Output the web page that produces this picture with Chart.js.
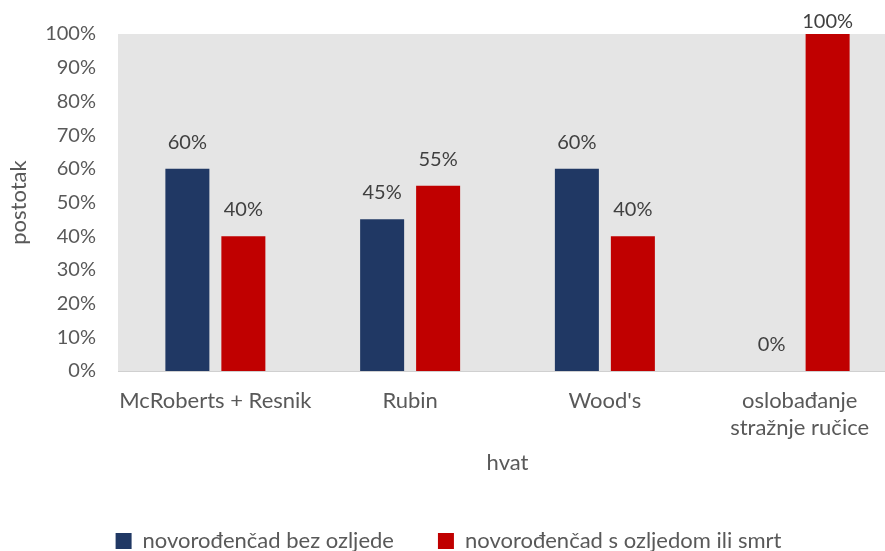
<!DOCTYPE html>
<html>
<head>
<meta charset="utf-8">
<script src="https://cdn.jsdelivr.net/npm/chart.js@4/dist/chart.umd.min.js"></script>
<style>
  html, body { margin: 0; padding: 0; background: #fff; overflow: hidden; }
  /* plot area runs past the right edge in the original, so the canvas is a bit wider than the window */
  #wrap { width: 897px; height: 551px; }
</style>
</head>
<body>
<div id="wrap"><canvas id="chart"></canvas></div>
<script>
const categories = ['McRoberts + Resnik', 'Rubin', "Wood's", ['oslobađanje', 'stražnje ručice']];
const seriesNames = ['novorođenčad bez ozljede', 'novorođenčad s ozljedom ili smrt'];
const bezOzljede = [60, 45, 60, 0];
const sOzljedom = [40, 55, 40, 100];
const seriesColors = ['#203864', '#C00000'];

const FONT = 'Lato, "Open Sans", sans-serif';
const TEXT_SIZE = 22;
const NUM_SIZE = 20;

// grey plot area like the spreadsheet original
const plotBackground = {
  id: 'plotBackground',
  beforeDraw(chart) {
    const { ctx, chartArea: a } = chart;
    ctx.save();
    ctx.fillStyle = '#E5E5E5';
    ctx.fillRect(a.left, a.top, a.right - a.left, a.bottom - a.top);
    ctx.restore();
  }
};

// percentage labels above each bar
const barLabels = {
  id: 'barLabels',
  afterDatasetsDraw(chart) {
    const { ctx } = chart;
    ctx.save();
    ctx.font = NUM_SIZE + 'px ' + FONT;
    ctx.fillStyle = '#404040';
    ctx.textAlign = 'center';
    ctx.textBaseline = 'alphabetic';
    chart.data.datasets.forEach((ds, i) => {
      chart.getDatasetMeta(i).data.forEach((bar, j) => {
        const y = Math.max(bar.y - 20, 28);
        ctx.fillText(ds.data[j] + '%', bar.x, y);
      });
    });
    ctx.restore();
  }
};

new Chart(document.getElementById('chart'), {
  type: 'bar',
  data: {
    labels: categories,
    datasets: [
      { label: seriesNames[0], data: bezOzljede, backgroundColor: seriesColors[0] },
      { label: seriesNames[1], data: sOzljedom, backgroundColor: seriesColors[1] }
    ]
  },
  options: {
    responsive: true,
    maintainAspectRatio: false,
    animation: false,
    categoryPercentage: 0.575,
    barPercentage: 0.786,
    layout: { padding: { top: 31, right: 0, bottom: -11, left: 0 } },
    plugins: {
      tooltip: { enabled: false },
      legend: {
        position: 'bottom',
        labels: {
          font: { family: FONT, size: TEXT_SIZE },
          color: '#595959',
          boxWidth: 16,
          boxHeight: 16,
          padding: 44
        }
      }
    },
    scales: {
      x: {
        grid: { display: false, drawTicks: false },
        border: { display: true, color: '#D0D0D0', width: 1 },
        ticks: { font: { family: FONT, size: TEXT_SIZE }, color: '#595959', padding: 17, maxRotation: 0, autoSkip: false },
        title: { display: true, text: 'hvat', font: { family: FONT, size: TEXT_SIZE }, color: '#595959', padding: { top: 0, bottom: 10 } },
        afterFit(s) { s.height = 115; }
      },
      y: {
        min: 0,
        max: 100,
        grid: { display: false, drawTicks: false },
        border: { display: false },
        ticks: { stepSize: 10, font: { family: FONT, size: NUM_SIZE }, color: '#595959', padding: 22, callback: v => v + '%' },
        title: { display: true, text: 'postotak', font: { family: FONT, size: TEXT_SIZE }, color: '#595959', padding: { top: 6, bottom: 0 } },
        afterFit(s) { s.width = 118; }
      }
    }
  },
  plugins: [plotBackground, barLabels]
});
</script>
</body>
</html>
